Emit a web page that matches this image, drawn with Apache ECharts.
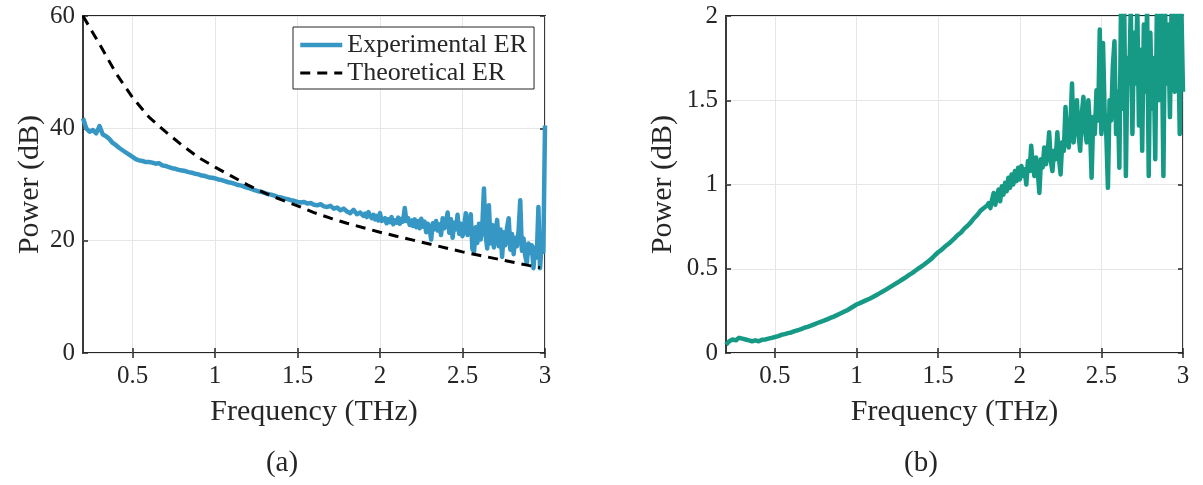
<!DOCTYPE html>
<html>
<head>
<meta charset="utf-8">
<script src="https://cdn.jsdelivr.net/npm/echarts@6/dist/echarts.min.js"></script>
<style>
  html, body { margin: 0; background: #fff; }
  #chart { width: 1203px; height: 485px; }
</style>
</head>
<body>
<div id="chart"></div>
<script>
// (a) experimental ER, frequency in THz
const freqExp = [
  0.20, 0.22, 0.24, 0.26, 0.28, 0.30, 0.32, 0.34, 0.36, 0.38,
  0.40, 0.42, 0.44, 0.46, 0.48, 0.50, 0.52, 0.54, 0.56, 0.58,
  0.60, 0.62, 0.64, 0.66, 0.68, 0.70, 0.72, 0.74, 0.76, 0.78,
  0.80, 0.82, 0.84, 0.86, 0.88, 0.90, 0.92, 0.94, 0.96, 0.98,
  1.00, 1.02, 1.04, 1.06, 1.08, 1.10, 1.12, 1.14, 1.16, 1.18,
  1.20, 1.22, 1.24, 1.26, 1.28, 1.30, 1.32, 1.34, 1.36, 1.38,
  1.40, 1.42, 1.44, 1.46, 1.48, 1.50, 1.52, 1.54, 1.56, 1.58,
  1.60, 1.62, 1.64, 1.66, 1.68, 1.70, 1.72, 1.74, 1.76, 1.78,
  1.80, 1.82, 1.84, 1.86, 1.88, 1.90,
  1.91, 1.92, 1.93, 1.94, 1.95, 1.96, 1.97, 1.98, 1.99, 2.00,
  2.01, 2.02, 2.03, 2.04, 2.05, 2.06, 2.07, 2.08, 2.09, 2.10,
  2.11, 2.12, 2.13, 2.14, 2.15, 2.16, 2.17, 2.18, 2.19, 2.20,
  2.21, 2.22, 2.23, 2.24, 2.25, 2.26, 2.27, 2.28, 2.29, 2.30,
  2.31, 2.32, 2.33, 2.34, 2.35, 2.36, 2.37, 2.38, 2.39, 2.40,
  2.41, 2.42, 2.43, 2.44, 2.45, 2.46, 2.47, 2.48, 2.49, 2.50,
  2.51, 2.52, 2.53, 2.54, 2.55, 2.56, 2.57, 2.58, 2.59, 2.60,
  2.61, 2.62, 2.63, 2.64, 2.65, 2.66, 2.67, 2.68, 2.69, 2.70,
  2.71, 2.72, 2.73, 2.74, 2.75, 2.76, 2.77, 2.78, 2.79, 2.80,
  2.81, 2.82, 2.83, 2.84, 2.85, 2.86, 2.87, 2.88, 2.89, 2.90,
  2.91, 2.92, 2.93, 2.94, 2.95, 2.96, 2.97, 2.98, 2.99, 3.00
];
const erExp = [
  41.8, 40.0, 39.4, 39.7, 39.1, 40.4, 38.9, 38.6, 38.1, 37.4,
  37.0, 36.5, 36.1, 35.7, 35.3, 34.9, 34.5, 34.3, 34.2, 34.0,
  34.0, 33.9, 33.7, 33.8, 33.4, 33.3, 33.1, 32.9, 32.8, 32.6,
  32.5, 32.4, 32.2, 32.1, 31.9, 31.8, 31.6, 31.5, 31.3, 31.2,
  31.1, 30.9, 30.8, 30.6, 30.4, 30.3, 30.1, 29.9, 29.8, 29.6,
  29.4, 29.2, 29.0, 28.8, 28.7, 28.5, 28.3, 28.2, 28.0, 27.8,
  27.7, 27.5, 27.4, 27.2, 27.1, 26.9, 26.8, 26.9, 26.6, 26.7,
  26.4, 26.3, 26.5, 26.1, 26.0, 26.2, 25.7, 25.9, 25.4, 25.7,
  25.2, 24.9, 25.5, 24.7, 25.0, 24.4,
  24.8, 24.2, 25.1, 24.4, 24.0, 24.6, 23.8, 24.4, 23.6, 24.9,
  23.5, 23.2, 24.0, 23.1, 23.8, 23.3, 24.2, 22.9, 23.6, 23.2,
  24.1, 23.0, 23.9, 23.4, 25.8, 23.5, 24.0, 22.8, 23.6, 22.6,
  23.8, 22.4, 23.5, 22.2, 23.9, 22.5, 23.4, 21.5, 23.0, 22.3,
  20.2, 23.1, 22.0, 23.5, 21.8, 22.9, 21.0, 24.0, 22.2, 23.4,
  25.0, 21.4, 23.8, 20.5, 23.2, 22.0, 24.6, 21.2, 23.0, 20.8,
  22.5, 24.9, 21.0, 22.8, 24.7, 18.5, 18.0, 22.4, 19.6, 23.0,
  20.2, 22.6, 29.3, 21.0, 18.6, 26.3, 19.5, 22.8, 18.8, 21.6,
  23.7, 19.0, 22.0, 17.1, 21.5, 19.2, 22.3, 24.0, 18.4, 21.2,
  17.6, 20.5, 19.0, 21.8, 27.2, 18.2, 20.4, 17.3, 16.0, 19.5,
  17.8, 19.2, 15.1, 18.8, 17.0, 26.0, 15.1, 19.6, 18.0, 40.5
];

// (a) theoretical ER
const freqTheo = [
  0.20, 0.25, 0.30, 0.40, 0.50, 0.60, 0.70, 0.80, 0.90, 1.00,
  1.10, 1.20, 1.30, 1.40, 1.50, 1.60, 1.70, 1.80, 1.90, 2.00,
  2.10, 2.20, 2.30, 2.40, 2.50, 2.60, 2.70, 2.80, 2.90, 2.97
];
const erTheo = [
  60.0, 57.5, 55.0, 49.8, 45.5, 42.0, 39.4, 37.0, 34.8, 33.1,
  31.5, 29.9, 28.5, 27.3, 26.2, 25.0, 24.0, 23.1, 22.3, 21.5,
  20.8, 20.1, 19.4, 18.7, 18.0, 17.4, 16.8, 16.2, 15.6, 15.2
];

// (b) power
const freqB = [
  0.20, 0.22, 0.24, 0.26, 0.28, 0.30, 0.32, 0.34, 0.36, 0.38,
  0.40, 0.42, 0.44, 0.46, 0.48, 0.50, 0.52, 0.54, 0.56, 0.58,
  0.60, 0.62, 0.64, 0.66, 0.68, 0.70, 0.72, 0.74, 0.76, 0.78,
  0.80, 0.82, 0.84, 0.86, 0.88, 0.90, 0.92, 0.94, 0.96, 0.98,
  1.00, 1.02, 1.04, 1.06, 1.08, 1.10, 1.12, 1.14, 1.16, 1.18,
  1.20, 1.22, 1.24, 1.26, 1.28, 1.30, 1.32, 1.34, 1.36, 1.38,
  1.40, 1.42, 1.44, 1.46, 1.48, 1.50, 1.52, 1.54, 1.56, 1.58,
  1.60, 1.62, 1.64, 1.66, 1.68, 1.70, 1.72, 1.74, 1.76, 1.78,
  1.80,
  1.81, 1.82, 1.83, 1.84, 1.85, 1.86, 1.87, 1.88, 1.89, 1.90,
  1.91, 1.92, 1.93, 1.94, 1.95, 1.96, 1.97, 1.98, 1.99, 2.00,
  2.01, 2.02, 2.03, 2.04, 2.05, 2.06, 2.07, 2.08, 2.09, 2.10,
  2.11, 2.12, 2.13, 2.14, 2.15, 2.16, 2.17, 2.18, 2.19, 2.20,
  2.21, 2.22, 2.23, 2.24, 2.25, 2.26, 2.27, 2.28, 2.29, 2.30,
  2.31, 2.32, 2.33, 2.34, 2.35, 2.36, 2.37, 2.38, 2.39, 2.40,
  2.41, 2.42, 2.43, 2.44, 2.45, 2.46, 2.47, 2.48, 2.49, 2.50,
  2.51, 2.52, 2.53, 2.54, 2.55, 2.56, 2.57, 2.58, 2.59, 2.60,
  2.61, 2.62, 2.63, 2.64, 2.65, 2.66, 2.67, 2.68, 2.69, 2.70,
  2.71, 2.72, 2.73, 2.74, 2.75, 2.76, 2.77, 2.78, 2.79, 2.80,
  2.81, 2.82, 2.83, 2.84, 2.85, 2.86, 2.87, 2.88, 2.89, 2.90,
  2.91, 2.92, 2.93, 2.94, 2.95, 2.96, 2.97, 2.98, 2.99, 3.00
];
const powerB = [
  0.05, 0.07, 0.08, 0.075, 0.09, 0.085, 0.08, 0.075, 0.07, 0.075,
  0.07, 0.078, 0.08, 0.085, 0.09, 0.095, 0.10, 0.108, 0.112, 0.118,
  0.122, 0.13, 0.135, 0.142, 0.15, 0.155, 0.162, 0.17, 0.178, 0.185,
  0.192, 0.20, 0.208, 0.216, 0.225, 0.234, 0.244, 0.252, 0.264, 0.276,
  0.288, 0.296, 0.305, 0.314, 0.322, 0.332, 0.343, 0.354, 0.365, 0.376,
  0.388, 0.40, 0.412, 0.424, 0.436, 0.448, 0.462, 0.474, 0.488, 0.502,
  0.515, 0.53, 0.545, 0.56, 0.58, 0.598, 0.612, 0.63, 0.645, 0.662,
  0.68, 0.70, 0.715, 0.738, 0.755, 0.775, 0.80, 0.82, 0.845, 0.86,
  0.875,
  0.89, 0.86, 0.91, 0.95, 0.88, 0.93, 0.97, 0.90, 0.99, 0.94,
  1.01, 0.96, 1.04, 0.98, 1.06, 1.00, 1.08, 1.02, 1.10, 1.03,
  1.11, 1.05, 1.09, 1.00, 1.14, 1.08, 1.23, 1.10, 1.05, 1.16,
  1.08, 0.95, 1.15, 1.10, 1.22, 1.12, 1.18, 1.31, 1.14, 1.08,
  1.20, 1.15, 1.31, 1.16, 1.06, 1.25, 1.20, 1.46, 1.28, 1.22,
  1.35, 1.60, 1.25, 1.38, 1.50, 1.30, 1.20, 1.42, 1.52, 1.32,
  1.25, 1.50, 1.35, 1.04, 1.40, 1.30, 1.56, 1.38, 1.92, 1.30,
  1.84, 1.42, 1.30, 0.98, 1.50, 1.38, 1.70, 1.85, 1.30, 1.55,
  1.10, 2.05, 1.45, 2.05, 1.05, 1.75, 1.60, 2.05, 1.30, 1.90,
  1.60, 2.05, 1.35, 1.80, 1.20, 1.95, 1.55, 2.05, 1.05, 1.90,
  1.45, 1.75, 1.15, 2.05, 1.50, 2.05, 1.85, 1.05, 2.05, 1.60,
  1.95, 1.40, 2.05, 1.85, 1.55, 2.05, 1.90, 1.30, 2.05, 1.55
];

const xTicks = [0.5, 1, 1.5, 2, 2.5, 3];

const textColor = "#262626";
const fontFamily = "Liberation Serif";
const blue = "#3797c4";
const teal = "#169a86";

const toPairs = (xs, ys) => xs.map((x, i) => [x, ys[i]]);

// 下方 x 軸（有刻度文字）與上方 x 軸（只有刻度）
function makeXAxis(gridIndex, isTop) {
  return {
    type: "value",
    gridIndex,
    position: isTop ? "top" : "bottom",
    min: 0.2,
    max: 3,
    name: isTop ? "" : "Frequency (THz)",
    nameLocation: "middle",
    nameGap: 44,
    nameTextStyle: { color: textColor, fontFamily, fontSize: 30 },
    axisLine: { show: false },
    axisTick: {
      show: true,
      inside: true,
      length: 5,
      customValues: xTicks,
      lineStyle: { color: textColor, width: 1.5 },
    },
    axisLabel: {
      show: !isTop,
      customValues: xTicks,
      margin: 11,
      color: textColor,
      fontFamily,
      fontSize: 25,
    },
    splitLine: {
      show: !isTop,
      lineStyle: { color: "#e6e6e6", width: 1 },
    },
  };
}

function makeYAxis(gridIndex, isRight, max, interval, nameGap) {
  return {
    type: "value",
    gridIndex,
    position: isRight ? "right" : "left",
    min: 0,
    max,
    interval,
    name: isRight ? "" : "Power (dB)",
    nameLocation: "middle",
    nameGap,
    nameTextStyle: { color: textColor, fontFamily, fontSize: 30 },
    axisLine: { show: false },
    axisTick: {
      show: true,
      inside: true,
      length: 5,
      lineStyle: { color: textColor, width: 1.5 },
    },
    axisLabel: {
      show: !isRight,
      margin: 8,
      color: textColor,
      fontFamily,
      fontSize: 25,
    },
    splitLine: {
      show: !isRight,
      lineStyle: { color: "#e6e6e6", width: 1 },
    },
  };
}

const gridBase = {
  top: 16,
  bottom: 132,
  show: true,
  backgroundColor: "#fff",
  borderColor: textColor,
  borderWidth: 1.8,
  containLabel: false,
  outerBoundsMode: "none",
};

const option = {
  animation: false,
  backgroundColor: "#fff",
  grid: [
    { ...gridBase, left: 83, right: 658 },
    { ...gridBase, left: 726, right: 20 },
  ],
  xAxis: [
    makeXAxis(0, false),
    makeXAxis(0, true),
    makeXAxis(1, false),
    makeXAxis(1, true),
  ],
  yAxis: [
    makeYAxis(0, false, 60, 20, 38),
    makeYAxis(0, true, 60, 20, 38),
    makeYAxis(1, false, 2, 0.5, 48),
    makeYAxis(1, true, 2, 0.5, 48),
  ],
  legend: {
    data: [
      { name: "Experimental ER", lineStyle: { width: 4.5 } },
      { name: "Theoretical ER", lineStyle: { width: 3, type: [10, 7] } },
    ],
    orient: "vertical",
    left: 293,
    top: 27,
    padding: [5, 7, 3, 5],
    itemWidth: 42,
    itemHeight: 14,
    itemGap: 2,
    backgroundColor: "#fff",
    borderColor: textColor,
    borderWidth: 1,
    borderRadius: 0,
    itemStyle: { opacity: 0 }, //只留線段，不畫符號
    textStyle: { color: textColor, fontFamily, fontSize: 26 },
  },
  graphic: [
    {
      type: "text",
      x: 282,
      y: 463,
      style: {
        text: "(a)",
        align: "center",
        verticalAlign: "middle",
        fill: textColor,
        fontFamily,
        fontSize: 29,
      },
    },
    {
      type: "text",
      x: 921,
      y: 463,
      style: {
        text: "(b)",
        align: "center",
        verticalAlign: "middle",
        fill: textColor,
        fontFamily,
        fontSize: 29,
      },
    },
  ],
  series: [
    {
      name: "Experimental ER",
      type: "line",
      xAxisIndex: 0,
      yAxisIndex: 0,
      data: toPairs(freqExp, erExp),
      showSymbol: false,
      symbol: "none",
      clip: true,
      lineStyle: { color: blue, width: 4.5, join: "round" },
      itemStyle: { color: blue },
      z: 3,
    },
    {
      name: "Theoretical ER",
      type: "line",
      xAxisIndex: 0,
      yAxisIndex: 0,
      data: toPairs(freqTheo, erTheo),
      showSymbol: false,
      symbol: "none",
      clip: true,
      lineStyle: { color: "#000", width: 3, type: [10, 7] },
      itemStyle: { color: "#000" },
      z: 4,
    },
    {
      name: "Power",
      type: "line",
      xAxisIndex: 2,
      yAxisIndex: 2,
      data: toPairs(freqB, powerB),
      showSymbol: false,
      symbol: "none",
      clip: true,
      lineStyle: { color: teal, width: 4.5, join: "round" },
      itemStyle: { color: teal },
    },
  ],
};

const chart = echarts.init(document.getElementById("chart"), null, {
  renderer: "canvas",
});
chart.setOption(option);
</script>
</body>
</html>
